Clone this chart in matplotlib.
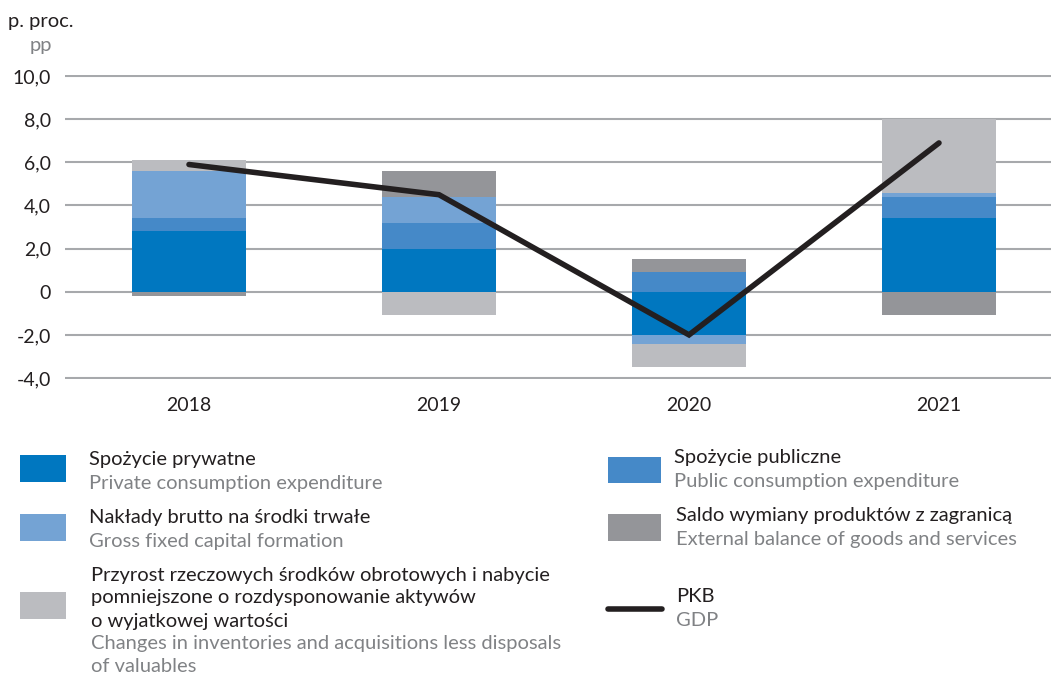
import matplotlib
matplotlib.use("Agg")
import matplotlib.pyplot as plt
import numpy as np

plt.rcParams['font.family'] = ['Lato', 'DejaVu Sans']

years = ["2018", "2019", "2020", "2021"]
private = [2.8, 2.0, -2.0, 3.4]
public = [0.6, 1.2, 0.9, 1.0]
gfcf = [2.2, 1.2, -0.4, 0.2]
inventories = [0.5, -1.1, -1.1, 3.4]
external = [-0.2, 1.2, 0.6, -1.1]
gdp = [5.9, 4.5, -2.0, 6.9]

yticks = [-4, -2, 0, 2, 4, 6, 8, 10]
ytick_labels = ["-4,0", "-2,0", "0", "2,0", "4,0", "6,0", "8,0", "10,0"]

series = [
    (private, "#0077c0"),
    (public, "#4589c8"),
    (gfcf, "#74a3d4"),
    (inventories, "#bbbcc0"),
    (external, "#949599"),
]

W, H = 1051, 677
fig = plt.figure(figsize=(W / 100, H / 100), dpi=100)

def px(x0, y0, x1, y1):
    return [x0 / W, 1 - y1 / H, (x1 - x0) / W, (y1 - y0) / H]

ax = fig.add_axes(px(65, 75, 1051, 379.1))
x = np.arange(len(years))
pos_base = np.zeros(len(years))
neg_base = np.zeros(len(years))
for vals, col in series:
    v = np.array(vals, dtype=float)
    bottom = np.where(v >= 0, pos_base, neg_base)
    ax.bar(x, v, bottom=bottom, width=0.456, color=col, zorder=2, linewidth=0)
    pos_base = pos_base + np.where(v >= 0, v, 0)
    neg_base = neg_base + np.where(v < 0, v, 0)

ax.plot(x, gdp, color="#231f20", lw=4, solid_capstyle="round", solid_joinstyle="miter", zorder=3)

ax.set_xlim(-0.496, 3.448)
ax.set_ylim(-4.05, 10.05)
ax.set_yticks(yticks)
ax.set_yticklabels(ytick_labels)
ax.set_xticks(x)
ax.set_xticklabels(years)
ax.grid(axis="y", color="#a7a9ac", lw=1.5, zorder=0)
ax.set_axisbelow(True)
for s in ax.spines.values():
    s.set_visible(False)
ax.tick_params(axis="both", length=0, labelsize=14, colors="#231f20")
ax.tick_params(axis="y", pad=10)
ax.tick_params(axis="x", pad=13)

dark = "#231f20"
grey = "#808285"
fs = 14.5

def t(xp, yp, s, c=dark, size=fs, **kw):
    fig.text(xp / W, 1 - yp / H, s, color=c, fontsize=size, va="center", ha="left", **kw)

t(8, 21, "p. proc.", size=14.5)
t(30, 45, "pp", grey, size=14.5)

def swatch(x0, y0, x1, y1, col):
    fig.patches.append(plt.Rectangle((x0 / W, 1 - y1 / H), (x1 - x0) / W, (y1 - y0) / H,
                                     transform=fig.transFigure, color=col, lw=0))

# left column
swatch(20, 455, 66, 482, "#0077c0")
t(89, 460, "Spożycie prywatne")
t(89, 483, "Private consumption expenditure", grey)

swatch(20, 514, 66, 541, "#74a3d4")
t(89, 518, "Nakłady brutto na środki trwałe")
t(89, 541, "Gross fixed capital formation", grey)

swatch(20, 592, 66, 619, "#bbbcc0")
t(91, 575, "Przyrost rzeczowych środków obrotowych i nabycie")
t(91, 598, "pomniejszone o rozdysponowanie aktywów")
t(91, 621, "o wyjatkowej wartości")
t(91, 644, "Changes in inventories and acquisitions less disposals", grey)
t(91, 666, "of valuables", grey)

# right column
swatch(608, 457, 661, 483, "#4589c8")
t(674, 458, "Spożycie publiczne")
t(674, 482, "Public consumption expenditure", grey)

swatch(608, 514, 661, 541, "#949599")
t(676, 516, "Saldo wymiany produktów z zagranicą")
t(676, 540, "External balance of goods and services", grey)

fig.add_artist(plt.Line2D([608 / W, 662 / W], [1 - 609 / H, 1 - 609 / H], color=dark, lw=4,
                          solid_capstyle="round", transform=fig.transFigure))
t(676, 596, "PKB")
t(676, 621, "GDP", grey)

fig.savefig("out.png", dpi=100)
